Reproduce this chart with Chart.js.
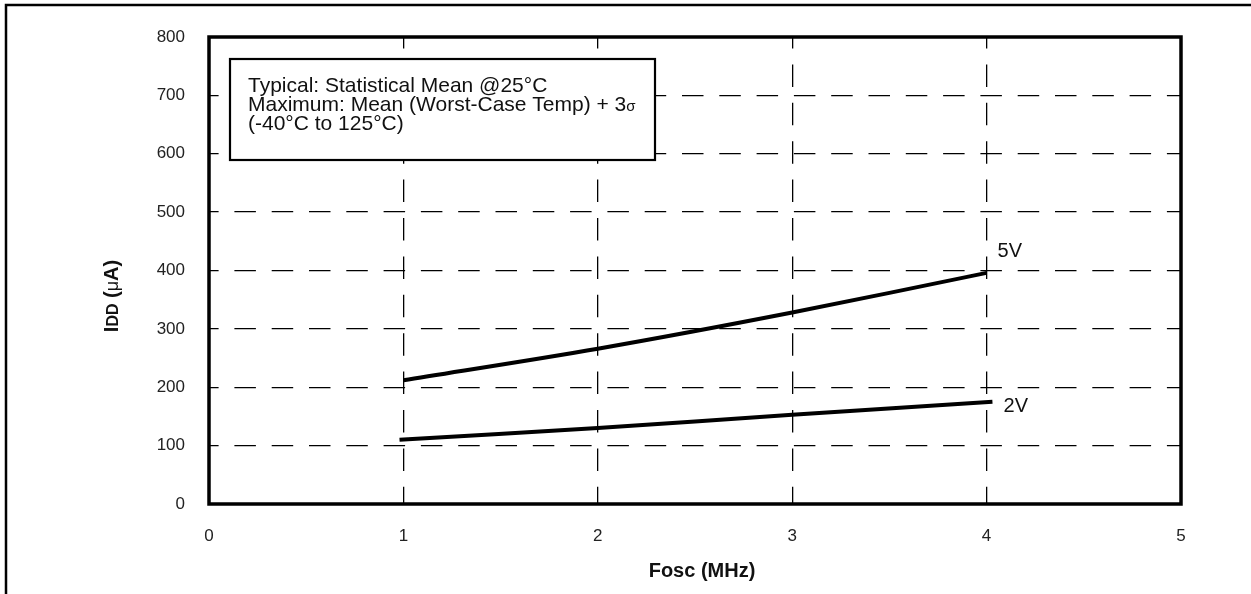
<!DOCTYPE html>
<html>
<head>
<meta charset="utf-8">
<script src="https://cdn.jsdelivr.net/npm/chart.js@4.4.1/dist/chart.umd.min.js"></script>
<style>
  html, body { margin: 0; padding: 0; background: #fff; }
  #wrap { width: 1251px; height: 594px; }
</style>
</head>
<body>
<div id="wrap"><canvas id="chart" width="1251" height="594"></canvas></div>
<script>
// values
var freqMHz5V = [1, 2, 3, 4];
var idd5V = [212, 266, 328, 396];
var freqMHz2V = [0.98, 2, 3, 4.03];
var idd2V = [110, 130, 153, 175];
var xTicks = [0, 1, 2, 3, 4, 5];
var yTicks = [0, 100, 200, 300, 400, 500, 600, 700, 800];
var seriesNames = ["5V", "2V"];
var noteLines = [
  "Typical: Statistical Mean @25°C",
  "Maximum: Mean (Worst-Case Temp) + 3\u03C3",
  "(-40°C to 125°C)"
];

var FONT = "'Liberation Sans', Arial, sans-serif";

function toPoints(xs, ys) {
  return xs.map(function (x, i) { return { x: x, y: ys[i] }; });
}

// frame, note box, series labels and axis titles
var decorations = {
  id: "decorations",
  beforeDraw: function (chart) {
    var ctx = chart.ctx;
    ctx.save();
    ctx.strokeStyle = "#000";
    ctx.lineWidth = 2.5;
    ctx.beginPath();
    ctx.moveTo(6, chart.height);
    ctx.lineTo(6, 5);
    ctx.lineTo(chart.width, 5);
    ctx.stroke();
    ctx.restore();
  },
  afterDraw: function (chart) {
    var ctx = chart.ctx;
    var a = chart.chartArea;
    var xs = chart.scales.x, ys = chart.scales.y;
    ctx.save();

    // plot frame
    ctx.strokeStyle = "#000";
    ctx.lineWidth = 3.5;
    ctx.strokeRect(a.left, a.top, a.right - a.left, a.bottom - a.top);

    // note box
    ctx.fillStyle = "#fff";
    ctx.fillRect(230, 59, 425, 101);
    ctx.lineWidth = 2.2;
    ctx.strokeRect(230, 59, 425, 101);
    ctx.fillStyle = "#111";
    ctx.font = "21px " + FONT;
    ctx.textAlign = "left";
    ctx.textBaseline = "alphabetic";
    ctx.fillText(noteLines[0], 248, 92);
    // sigma drawn smaller like the original symbol glyph
    var t = noteLines[1].slice(0, -1);
    ctx.fillText(t, 248, 111);
    var w = ctx.measureText(t).width;
    ctx.font = "15px " + FONT;
    ctx.fillText(noteLines[1].slice(-1), 248 + w, 111);
    ctx.font = "21px " + FONT;
    ctx.fillText(noteLines[2], 248, 130);

    // series labels
    ctx.font = "20px " + FONT;
    ctx.fillText(seriesNames[0], xs.getPixelForValue(4) + 11, ys.getPixelForValue(idd5V[3]) - 16);
    ctx.fillText(seriesNames[1], xs.getPixelForValue(4) + 17, ys.getPixelForValue(idd2V[3]) + 10);

    // x title
    ctx.font = "bold 20px " + FONT;
    ctx.textAlign = "center";
    ctx.textBaseline = "middle";
    ctx.fillText("Fosc (MHz)", 702, 571);

    // y title: I + small caps DD + (µA)
    ctx.translate(111, 296);
    ctx.rotate(-Math.PI / 2);
    var parts = [
      { s: "I", f: "bold 20px " + FONT },
      { s: "DD", f: "bold 16px " + FONT },
      { s: " (", f: "bold 20px " + FONT },
      { s: "\u03BC", f: "18px " + FONT },
      { s: "A)", f: "bold 20px " + FONT }
    ];
    var total = 0;
    parts.forEach(function (p) { ctx.font = p.f; total += ctx.measureText(p.s).width; });
    var x = -total / 2;
    ctx.textAlign = "left";
    ctx.textBaseline = "alphabetic";
    parts.forEach(function (p) {
      ctx.font = p.f;
      ctx.fillText(p.s, x, 7);
      x += ctx.measureText(p.s).width;
    });
    ctx.restore();
  }
};

var ctx = document.getElementById("chart").getContext("2d");
new Chart(ctx, {
  type: "line",
  data: {
    datasets: [
      {
        label: seriesNames[0],
        data: toPoints(freqMHz5V, idd5V),
        borderColor: "#000",
        borderWidth: 4,
        pointRadius: 0,
        tension: 0.3,
        fill: false
      },
      {
        label: seriesNames[1],
        data: toPoints(freqMHz2V, idd2V),
        borderColor: "#000",
        borderWidth: 4,
        pointRadius: 0,
        tension: 0.3,
        fill: false
      }
    ]
  },
  options: {
    responsive: false,
    animation: false,
    layout: { padding: { left: 0, right: 70, top: 37, bottom: 0 } },
    plugins: { legend: { display: false }, tooltip: { enabled: false } },
    scales: {
      x: {
        type: "linear",
        min: xTicks[0],
        max: xTicks[xTicks.length - 1],
        afterBuildTicks: function (s) { s.ticks = xTicks.map(function (v) { return { value: v }; }); },
        afterFit: function (s) { s.height = 90; },
        grid: { color: "#000", lineWidth: 1.3, drawTicks: false },
        border: { display: false, dash: [22.5, 15.9], dashOffset: 11 },
        ticks: { color: "#222", font: { family: FONT, size: 17 }, padding: 22, maxRotation: 0 }
      },
      y: {
        min: yTicks[0],
        max: yTicks[yTicks.length - 1],
        afterBuildTicks: function (s) { s.ticks = yTicks.map(function (v) { return { value: v }; }); },
        afterFit: function (s) { s.width = 209; },
        grid: { color: "#000", lineWidth: 1.3, drawTicks: false },
        border: { display: false, dash: [21.5, 15.8], dashOffset: 11.9 },
        ticks: { color: "#222", font: { family: FONT, size: 17 }, padding: 24 }
      }
    }
  },
  plugins: [decorations]
});
</script>
</body>
</html>
